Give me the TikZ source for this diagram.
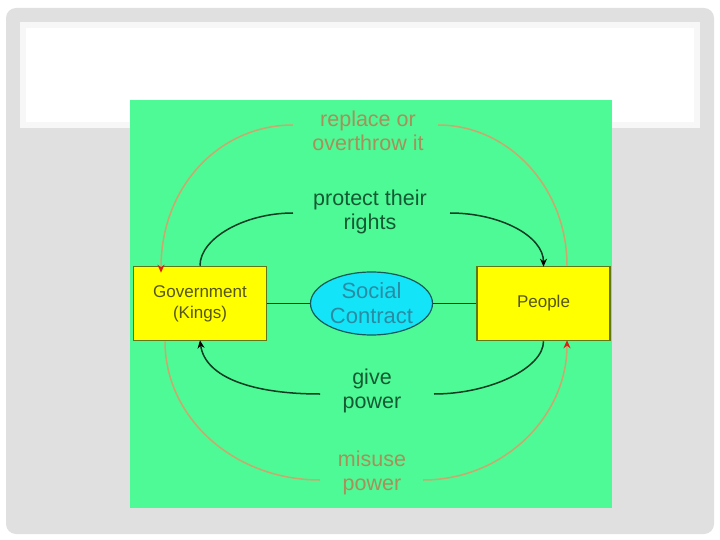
\documentclass[tikz,border=0pt]{standalone}
\usepackage{fontspec}
\setmainfont{Liberation Sans}
\usetikzlibrary{shapes.geometric,arrows.meta}
\definecolor{slidegray}{RGB}{224,224,224}
\definecolor{panelgreen}{RGB}{78,250,150}
\definecolor{boxyellow}{RGB}{255,255,0}
\definecolor{boxedge}{RGB}{95,120,20}
\definecolor{boxtext}{RGB}{85,85,20}
\definecolor{ellfill}{RGB}{20,228,248}
\definecolor{elledge}{RGB}{20,90,90}
\definecolor{elltext}{RGB}{40,140,165}
\definecolor{tanline}{RGB}{200,170,110}
\definecolor{tantext}{RGB}{165,145,90}
\definecolor{darkline}{RGB}{15,60,35}
\definecolor{darktext}{RGB}{20,90,50}
\definecolor{tipred}{RGB}{220,30,20}
\tikzset{
  box/.style={draw=boxedge, line width=1.6pt, fill=boxyellow, minimum width=133pt, minimum height=74pt, align=center, text=boxtext, font=\fontsize{17}{21}\selectfont, inner sep=0pt},
  contract/.style={ellipse, draw=elledge, line width=1.2pt, fill=ellfill, minimum width=122pt, minimum height=63pt, align=center, text=elltext, font=\fontsize{22}{25}\selectfont, inner sep=0pt},
  lbldark/.style={align=center, text=darktext, font=\fontsize{21.5}{24.5}\selectfont, inner sep=0pt},
  lbltan/.style={align=center, text=tantext, font=\fontsize{21.5}{23.5}\selectfont, inner sep=0pt},
  darkarc/.style={draw=darkline, line width=1.5pt},
  tanarc/.style={draw=tanline, line width=1.5pt},
  darktip/.style={-{Stealth[length=8pt,width=7pt,color=black]}},
  redtip/.style={-{Stealth[length=8pt,width=7pt,color=tipred]}},
  link/.style={draw=darkline, line width=1.5pt}
}
\begin{document}
\begin{tikzpicture}[x=1pt,y=-1pt]
\useasboundingbox (0,0) rectangle (720,540);
\fill[white] (0,0) rectangle (720,540);
\fill[slidegray, rounded corners=10pt] (6,8) rectangle (714,534);
\fill[white!97!black] (20,22) rectangle (700,128);
\fill[white] (26,28) rectangle (694,122);
\fill[panelgreen] (130,100) rectangle (612,508);

\node[box] (gov) at (200,303.5) {Government\\(Kings)};
\node[box] (people) at (543.5,303.5) {People};
\node[contract] (sc) at (371.5,303.5) {Social\\Contract};

\draw[link] (gov.east) -- (sc.west);
\draw[link] (sc.east) -- (people.west);

\node[lbltan] (repl) at (368,131) {replace or\\overthrow it};
\node[lbldark] (prot) at (370,212) {protect their\\rights};
\node[lbldark] (give) at (372,391) {give\\power};
\node[lbltan] (misuse) at (372,473) {misuse\\power};

\coordinate (pl) at (293,213);
\coordinate (pr) at (450,213);
\coordinate (rl) at (293,125);
\coordinate (rr) at (438,125);
\coordinate (gl) at (320,394);
\coordinate (gr) at (434,394);
\coordinate (ml) at (320,480);
\coordinate (mr) at (423,480);

% protect their rights
\draw[darkarc] (gov.north) .. controls (200,238) and (245,213) .. (pl);
\draw[darkarc,darktip] (pr) .. controls (500,213) and (543.5,236) .. ([yshift=-1pt]people.north);

% replace or overthrow it
\draw[tanarc] ([xshift=23.5pt]people.north) .. controls (567,188) and (509,125) .. (rr);
\draw[tanarc,redtip] (rl) .. controls (220,125) and (161,186) .. ([xshift=-39pt,yshift=-7pt]gov.north);

% give power
\draw[darkarc] (people.south) .. controls (543.5,368) and (490,394) .. (gr);
\draw[darkarc,darktip] (gl) .. controls (254,394) and (205,378) .. ([yshift=1pt]gov.south);

% misuse power
\draw[tanarc] ([xshift=-35pt]gov.south) .. controls (165,418) and (234,480) .. (ml);
\draw[tanarc,redtip] (mr) .. controls (502,480) and (567,418) .. ([xshift=23.5pt,yshift=1pt]people.south);
\end{tikzpicture}
\end{document}
